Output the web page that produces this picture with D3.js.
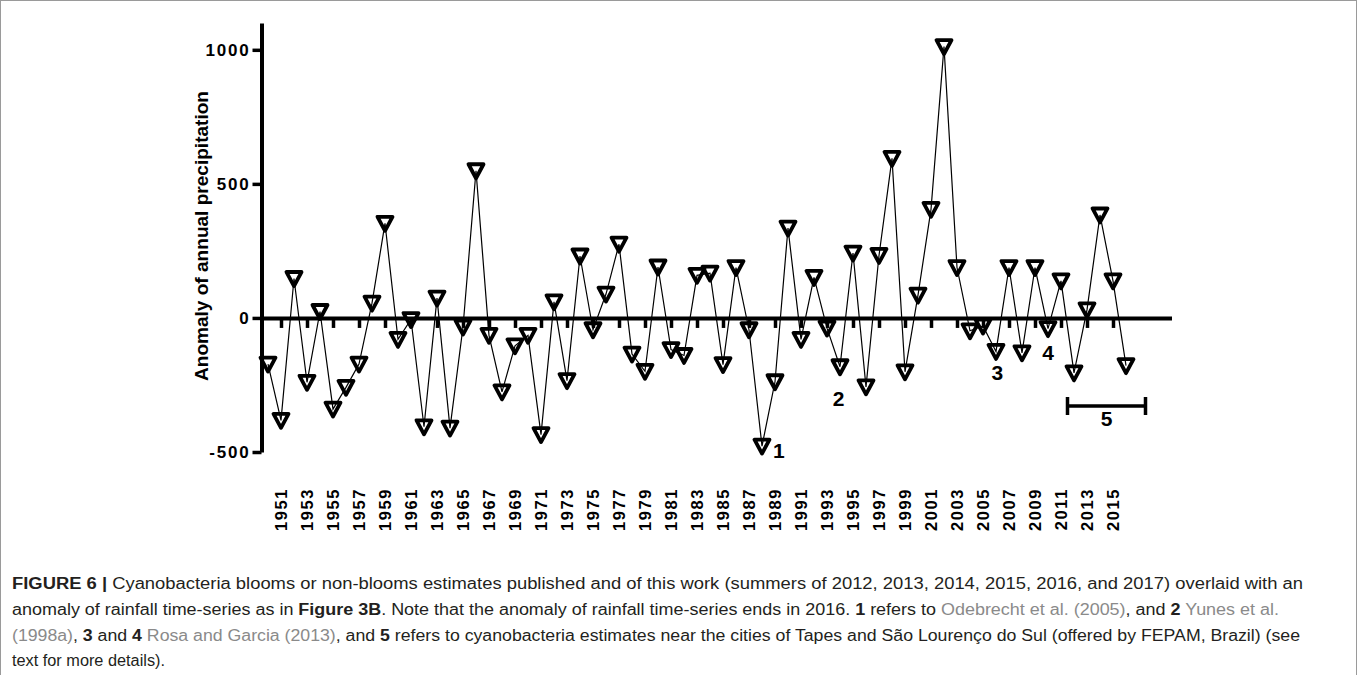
<!DOCTYPE html>
<html>
<head>
<meta charset="utf-8">
<script src="https://cdn.jsdelivr.net/npm/d3@7"></script>
<style>
  body { margin: 0; background: #fff; }
  svg { display: block; font-family: Arial, 'Liberation Sans', sans-serif; }
</style>
</head>
<body>
<svg id="chart" width="1358" height="675"></svg>
<script>
// anomaly of annual precipitation, 1950-2016
const years = [
  1950, 1951, 1952, 1953, 1954, 1955, 1956, 1957, 1958, 1959,
  1960, 1961, 1962, 1963, 1964, 1965, 1966, 1967, 1968, 1969,
  1970, 1971, 1972, 1973, 1974, 1975, 1976, 1977, 1978, 1979,
  1980, 1981, 1982, 1983, 1984, 1985, 1986, 1987, 1988, 1989,
  1990, 1991, 1992, 1993, 1994, 1995, 1996, 1997, 1998, 1999,
  2000, 2001, 2002, 2003, 2004, 2005, 2006, 2007, 2008, 2009,
  2010, 2011, 2012, 2013, 2014, 2015, 2016
]
const anomaly = [
  -172, -382, 147, -240, 24, -340, -259, -172, 55, 353,
  -80, -6, -406, 74, -411, -34, 549, -65, -276, -104,
  -65, -435, 60, -234, 231, -44, 89, 275, -135, -199,
  190, -118, -140, 159, 167, -174, 188, -44, -478, -238,
  335, -80, 151, -38, -182, 242, -257, 233, 595, -201,
  85, 405, 1012, 188, -48, -30, -125, 188, -130, 188,
  -40, 138, -205, 30, 384, 138, -178
]
const tickYears = [
  1951, 1953, 1955, 1957, 1959, 1961, 1963, 1965, 1967, 1969,
  1971, 1973, 1975, 1977, 1979, 1981, 1983, 1985, 1987, 1989,
  1991, 1993, 1995, 1997, 1999, 2001, 2003, 2005, 2007, 2009,
  2011, 2013, 2015
]
const yTicks = [-500, 0, 500, 1000]

// numbered references drawn on the chart
const noteLabels = ['1', '2', '3', '4', '5']
const noteYears = [1989.3, 1993.9, 2006.1, 2010.0, 2014.5]
const noteValues = [-493, -299, -205, -127, -373]
const bracketYears = [2011.5, 2017.5]
const bracketValue = -328

const svg = d3.select('#chart')

svg.append('rect')
  .attr('x', 0.5).attr('y', 0.5)
  .attr('width', 1356).attr('height', 720)
  .attr('fill', '#fff')
  .attr('stroke', '#9a9a9a')

const x = d3.scaleLinear().domain([1949.5, 2019.5]).range([261.5, 1171.5])
const y = d3.scaleLinear().domain([-500, 1100]).range([452, 23])

// y axis
const yAxis = svg.append('g')
  .attr('transform', 'translate(' + x(1949.5) + ',0)')
  .call(d3.axisLeft(y).tickValues(yTicks).tickSize(9).tickSizeOuter(0).tickPadding(2)
    .tickFormat(d => String(d)))
yAxis.select('.domain').attr('stroke-width', 4)
yAxis.selectAll('.tick line').attr('stroke-width', 3.5)
yAxis.selectAll('.tick text')
  .attr('font-size', 17).attr('font-weight', 'bold')
  .attr('letter-spacing', 1.8).attr('fill', '#000')

svg.append('text')
  .attr('transform', 'translate(208,236) rotate(-90)')
  .attr('text-anchor', 'middle')
  .attr('font-size', 18)
  .attr('font-weight', 'bold')
  .attr('textLength', 290)
  .attr('lengthAdjust', 'spacingAndGlyphs')
  .text('Anomaly of annual precipitation')

// x axis crossing at zero
const xAxis = svg.append('g')
  .attr('transform', 'translate(0,' + y(0) + ')')
  .call(d3.axisBottom(x).tickValues(tickYears).tickSize(10).tickSizeOuter(0).tickFormat(''))
xAxis.select('.domain').attr('stroke-width', 4)
xAxis.selectAll('.tick line').attr('stroke-width', 3.5)

// year labels sit under the plot
const xLabels = svg.append('g')
  .attr('transform', 'translate(0,488)')
  .call(d3.axisBottom(x).tickValues(tickYears).tickSize(0).tickFormat(d3.format('d')))
xLabels.select('.domain').remove()
xLabels.selectAll('.tick text')
  .attr('transform', 'rotate(-90)')
  .attr('text-anchor', 'end')
  .attr('x', 0).attr('y', 0).attr('dy', '0.36em')
  .attr('font-size', 16.5).attr('font-weight', 'bold')
  .attr('letter-spacing', 1.6).attr('fill', '#000')

// series
const line = d3.line()
  .x((d, i) => x(years[i]))
  .y(d => y(d))

svg.append('path')
  .datum(anomaly)
  .attr('d', line)
  .attr('fill', 'none')
  .attr('stroke', '#000')
  .attr('stroke-width', 1.2)

svg.append('g')
  .selectAll('path')
  .data(anomaly)
  .join('path')
  .attr('transform', (d, i) => 'translate(' + x(years[i]) + ',' + y(d) + ')')
  .attr('d', 'M-7.5,-6.5L7.5,-6.5L0,7.5Z')
  .attr('fill', 'none')
  .attr('stroke', '#000')
  .attr('stroke-width', 3.8)
  .attr('stroke-linejoin', 'round')

// bracket for note 5
const by = y(bracketValue)
svg.append('path')
  .attr('d', 'M' + x(bracketYears[0]) + ',' + (by - 9) + 'V' + (by + 9) +
    'M' + x(bracketYears[0]) + ',' + by + 'H' + x(bracketYears[1]) +
    'M' + x(bracketYears[1]) + ',' + (by - 9) + 'V' + (by + 9))
  .attr('fill', 'none')
  .attr('stroke', '#000')
  .attr('stroke-width', 3.5)

svg.append('g')
  .selectAll('text')
  .data(noteLabels)
  .join('text')
  .attr('x', (d, i) => x(noteYears[i]))
  .attr('y', (d, i) => y(noteValues[i]))
  .attr('dy', '0.36em')
  .attr('text-anchor', 'middle')
  .attr('font-size', 21)
  .attr('font-weight', 'bold')
  .text(d => d)

// caption
const captionLines = [
  [['b', 'FIGURE 6 |'], ['n', ' Cyanobacteria blooms or non-blooms estimates published and of this work (summers of 2012, 2013, 2014, 2015, 2016, and 2017) overlaid with an']],
  [['n', 'anomaly of rainfall time-series as in '], ['b', 'Figure 3B'], ['n', '. Note that the anomaly of rainfall time-series ends in 2016. '], ['b', '1'], ['n', ' refers to '], ['g', 'Odebrecht et al. (2005)'], ['n', ', and '], ['b', '2'], ['n', ' '], ['g', 'Yunes et al.']],
  [['g', '(1998a)'], ['n', ', '], ['b', '3'], ['n', ' and '], ['b', '4'], ['n', ' '], ['g', 'Rosa and Garcia (2013)'], ['n', ', and '], ['b', '5'], ['n', ' refers to cyanobacteria estimates near the cities of Tapes and São Lourenço do Sul (offered by FEPAM, Brazil) (see']],
  [['n', 'text for more details).']]
]
const captionWidths = [1291, 1267, 1288, 153]
const captionY = [589, 615, 641, 666]

const caption = svg.append('g')
  .attr('font-size', 16)
  .attr('fill', '#231f20')

caption.selectAll('text')
  .data(captionLines)
  .join('text')
  .attr('x', 12)
  .attr('y', (d, i) => captionY[i])
  .attr('textLength', (d, i) => captionWidths[i])
  .attr('lengthAdjust', 'spacingAndGlyphs')
  .style('white-space', 'pre')
  .each(function (parts) {
    d3.select(this).selectAll('tspan')
      .data(parts)
      .join('tspan')
      .attr('font-weight', d => d[0] === 'b' ? 'bold' : null)
      .attr('fill', d => d[0] === 'g' ? '#8a8a8a' : null)
      .text(d => d[1])
  })
</script>
</body>
</html>
